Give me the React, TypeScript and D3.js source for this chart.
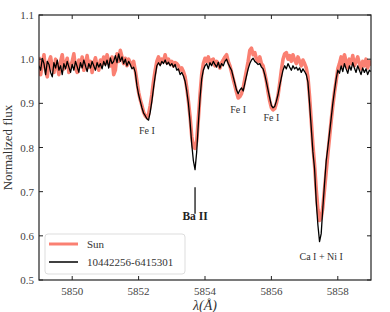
import React from 'react';
import * as d3 from 'd3';

// wavelength grid: uniform sampling, 0.05 Å
const LAMBDA_START = 5849.0;
const LAMBDA_STEP = 0.05;

const sunFlux = [
  1.005, 0.965, 0.990, 1.010, 0.975, 0.960, 0.995, 1.005, 0.980, 0.970, 1.000, 0.985, 0.965, 0.995, 1.010, 0.978, 0.990, 1.002, 0.970, 0.985,
  0.995, 1.012, 0.980, 0.970, 0.998, 0.985, 1.005, 0.975, 0.990, 1.008, 0.982, 0.995, 0.970, 0.990, 1.003, 0.985, 0.975, 0.998, 0.988, 1.005,
  0.990, 1.010, 0.995, 0.985, 1.005, 0.965, 0.975, 1.012, 0.995, 1.020, 1.005, 0.990, 1.002, 0.985, 1.000, 0.992, 0.985, 0.995, 0.975, 0.950,
  0.925, 0.908, 0.895, 0.880, 0.872, 0.868, 0.875, 0.895, 0.920, 0.950, 0.975, 0.995, 1.005, 0.990, 1.000, 0.995, 1.010, 0.992, 1.000, 0.990,
  0.995, 0.985, 0.992, 0.990, 0.985, 0.975, 0.980, 0.972, 0.960, 0.935, 0.905, 0.870, 0.825, 0.800, 0.798, 0.815, 0.865, 0.920, 0.965, 0.990,
  1.002, 0.995, 1.005, 0.990, 0.998, 1.000, 0.985, 0.995, 0.990, 0.980, 0.992, 0.998, 1.005, 1.010, 0.995, 0.985, 0.970, 0.955, 0.940, 0.925,
  0.912, 0.915, 0.922, 0.935, 0.955, 0.975, 0.995, 1.020, 1.025, 1.010, 1.015, 1.000, 0.995, 1.005, 0.990, 0.985, 0.968, 0.950, 0.925, 0.905,
  0.890, 0.885, 0.888, 0.900, 0.918, 0.945, 0.975, 1.000, 1.012, 1.015, 1.000, 1.008, 0.995, 1.010, 0.998, 0.990, 1.005, 0.995, 0.985, 0.998,
  0.990, 0.980, 0.960, 0.915, 0.860, 0.805, 0.760, 0.705, 0.660, 0.635, 0.640, 0.665, 0.705, 0.745, 0.785, 0.822, 0.860, 0.895, 0.925, 0.950,
  0.978, 0.990, 1.005, 0.985, 1.010, 0.995, 0.980, 1.000, 0.990, 1.008, 0.985, 0.995, 1.005, 0.990, 0.978, 0.995, 0.985, 1.000, 0.980, 0.995, 0.985,
];

const starFlux = [
  0.985, 0.975, 1.002, 0.990, 0.965, 0.995, 0.988, 0.970, 0.960, 0.992, 0.980, 0.998, 0.975, 0.985, 0.965, 0.990, 0.978, 0.995, 0.982, 0.970,
  0.988, 0.975, 0.995, 0.983, 0.970, 0.992, 0.980, 0.998, 0.985, 0.972, 0.990, 0.980, 0.995, 0.985, 0.975, 0.992, 0.982, 0.990, 0.978, 0.995,
  0.985, 0.998, 0.980, 1.003, 0.990, 0.995, 1.008, 0.992, 1.012, 0.995, 1.005, 0.990, 1.000, 0.985, 0.995, 0.988, 0.978, 0.982, 0.970, 0.940,
  0.920, 0.905, 0.890, 0.878, 0.872, 0.865, 0.862, 0.880, 0.905, 0.935, 0.962, 0.985, 0.992, 0.985, 0.995, 0.990, 0.998, 0.988, 0.993, 0.985,
  0.990, 0.982, 0.988, 0.975, 0.978, 0.965, 0.970, 0.962, 0.950, 0.928, 0.900, 0.858, 0.808, 0.770, 0.750, 0.790, 0.855, 0.912, 0.955, 0.975,
  0.985, 0.990, 0.978, 0.992, 0.985, 0.995, 0.988, 0.982, 0.993, 0.980, 0.990, 0.985, 0.995, 1.000, 0.990, 0.982, 0.975, 0.960, 0.945, 0.930,
  0.922, 0.930, 0.935, 0.928, 0.945, 0.962, 0.978, 0.990, 0.998, 1.002, 0.995, 0.992, 0.988, 0.990, 0.982, 0.978, 0.965, 0.948, 0.930, 0.912,
  0.895, 0.890, 0.893, 0.905, 0.920, 0.940, 0.958, 0.975, 0.985, 0.978, 0.990, 0.982, 0.975, 0.985, 0.978, 0.982, 0.975, 0.980, 0.970, 0.978,
  0.972, 0.965, 0.948, 0.900, 0.845, 0.790, 0.752, 0.678, 0.625, 0.587, 0.605, 0.664, 0.718, 0.769, 0.800, 0.832, 0.866, 0.900, 0.928, 0.955,
  0.975, 0.968, 0.985, 0.972, 0.990, 0.978, 0.968, 0.985, 0.975, 0.992, 0.980, 0.970, 0.985, 0.975, 0.965, 0.980, 0.970, 0.978, 0.965, 0.975, 0.972,
];

const xTicks = [5850, 5852, 5854, 5856, 5858];
const yTicks = [0.5, 0.6, 0.7, 0.8, 0.9, 1.0, 1.1];

const lineLabels = [
  { text: 'Fe I', lambda: 5852.25, flux: 0.83, bold: false },
  { text: 'Fe I', lambda: 5855.0, flux: 0.878, bold: false },
  { text: 'Fe I', lambda: 5856.0, flux: 0.86, bold: false },
  { text: 'Ca I + Ni I', lambda: 5857.5, flux: 0.546, bold: false },
];

const W = 390;
const H = 312;
const margin = { top: 15, right: 19, bottom: 32, left: 39 };
const FONT = '"Liberation Serif", "DejaVu Serif", serif';

export default function App() {
  const iw = W - margin.left - margin.right;
  const ih = H - margin.top - margin.bottom;

  const wl = sunFlux.map((_, i) => LAMBDA_START + i * LAMBDA_STEP);
  const x = d3.scaleLinear().domain([5849, 5859]).range([0, iw]);
  const y = d3.scaleLinear().domain([0.5, 1.1]).range([ih, 0]);

  const line = d3.line<number>()
    .x((_, i) => x(wl[i]))
    .y(d => y(d));

  const baX = x(5853.7);

  return (
    <svg width={W} height={H} style={{ position: 'absolute', left: 0, top: 0, background: '#fff' }}
      fontFamily={FONT}>
      <g transform={`translate(${margin.left},${margin.top})`}>
        <defs>
          <clipPath id="plot-clip">
            <rect x={0} y={0} width={iw} height={ih} />
          </clipPath>
        </defs>

        <g clipPath="url(#plot-clip)">
          <path d={line(sunFlux) ?? ''} fill="none" stroke="#FA8072" strokeWidth={3.6} strokeLinejoin="round" />
          <path d={line(starFlux) ?? ''} fill="none" stroke="#000" strokeWidth={1.3} strokeLinejoin="round" />
        </g>

        {/* line identifications */}
        {lineLabels.map((l, i) => (
          <text key={i} x={x(l.lambda)} y={y(l.flux)} textAnchor="middle" fontSize={10} fill="#333">
            {l.text}
          </text>
        ))}
        <line x1={baX} x2={baX} y1={y(0.71)} y2={y(0.65)} stroke="#000" strokeWidth={1.2} />
        <text x={baX} y={y(0.635)} textAnchor="middle" fontSize={11.5} fontWeight="bold" fill="#222">Ba II</text>

        {/* ticks: inward on all four sides */}
        {xTicks.map(t => (
          <g key={t}>
            <line x1={x(t)} x2={x(t)} y1={ih} y2={ih - 4} stroke="#222" />
            <line x1={x(t)} x2={x(t)} y1={0} y2={4} stroke="#222" />
            <text x={x(t)} y={ih + 15} textAnchor="middle" fontSize={11} fill="#444">{t}</text>
          </g>
        ))}
        {yTicks.map(t => (
          <g key={t}>
            <line x1={0} x2={4} y1={y(t)} y2={y(t)} stroke="#222" />
            <line x1={iw} x2={iw - 4} y1={y(t)} y2={y(t)} stroke="#222" />
            <text x={-5} y={y(t) + 4} textAnchor="end" fontSize={11} fill="#444">{d3.format('.1f')(t)}</text>
          </g>
        ))}

        <rect x={0} y={0} width={iw} height={ih} fill="none" stroke="#222" strokeWidth={1.2} />

        {/* legend */}
        <g transform={`translate(6,${ih - 46})`}>
          <rect x={0} y={0} width={140} height={40} rx={3} fill="#fff" fillOpacity={0.85} stroke="#ddd" />
          <line x1={4} x2={33} y1={10} y2={10} stroke="#FA8072" strokeWidth={3} />
          <text x={42} y={14} fontSize={11} fill="#333">Sun</text>
          <line x1={4} x2={33} y1={28} y2={28} stroke="#000" strokeWidth={1.5} />
          <text x={42} y={32} fontSize={11} fill="#333">10442256-6415301</text>
        </g>

        {/* axis labels */}
        <text transform={`translate(-27,${ih / 2}) rotate(-90)`} textAnchor="middle" fontSize={13} fill="#333">
          Normalized flux
        </text>
        <text x={iw / 2} y={ih + 30} textAnchor="middle" fontSize={14} fill="#333" fontStyle="italic">
          λ(Å)
        </text>
      </g>
    </svg>
  );
}
